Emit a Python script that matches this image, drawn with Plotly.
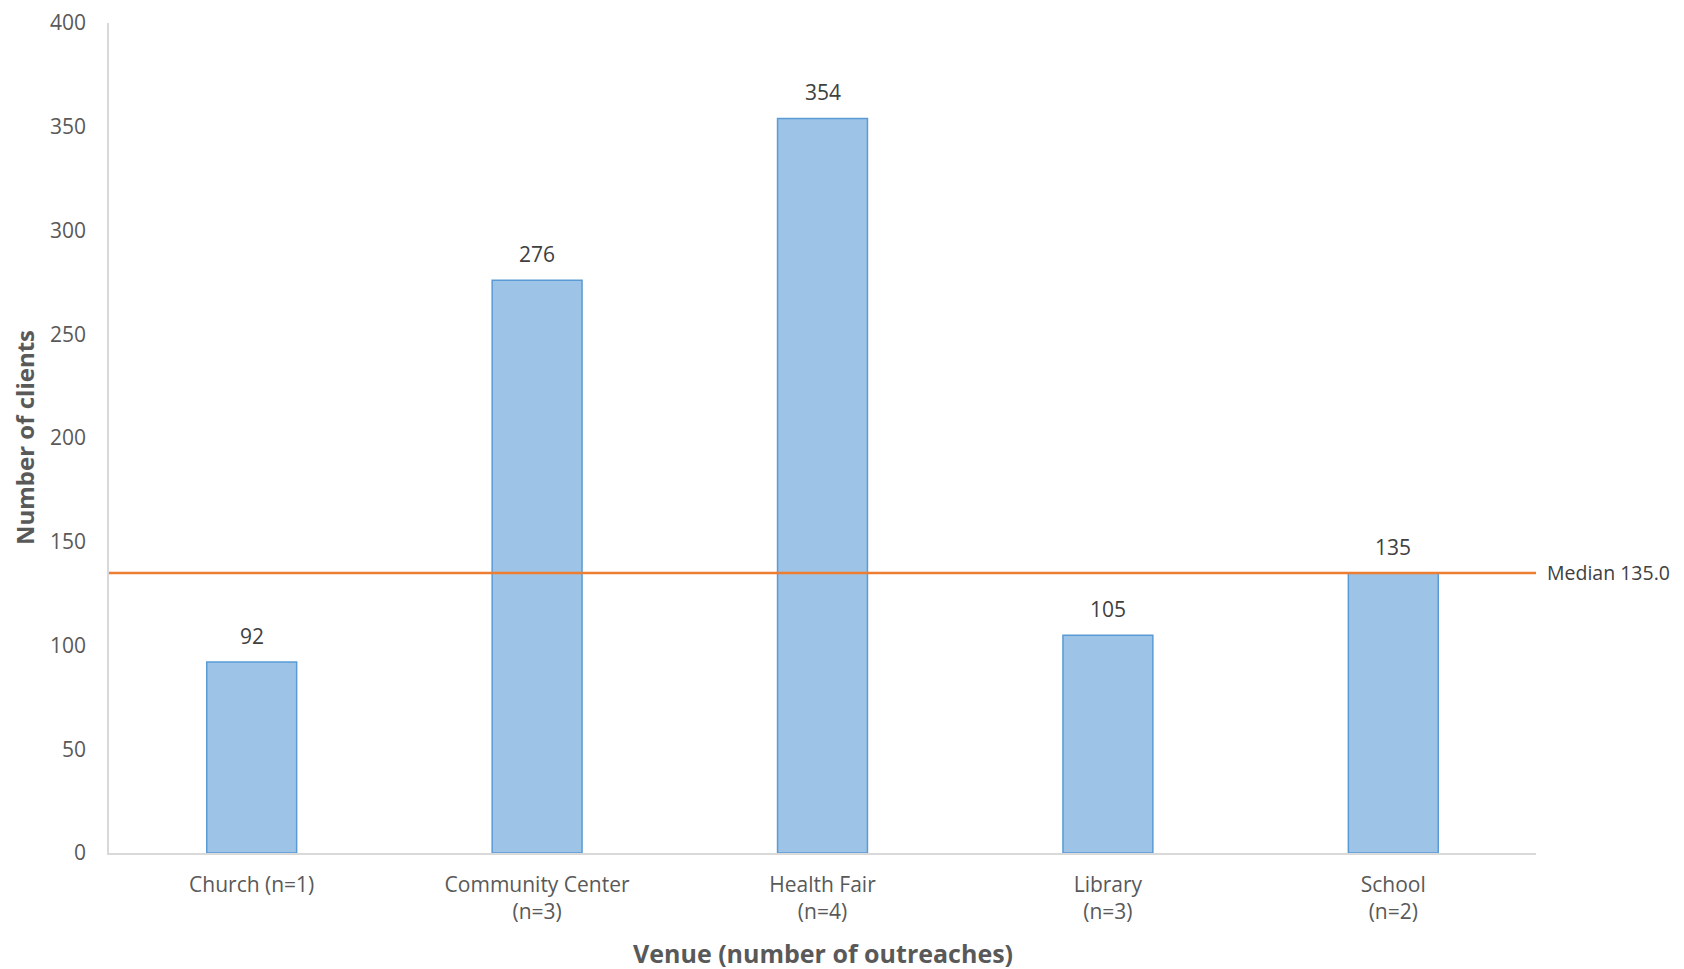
import plotly.graph_objects as go

venues = ["Church", "Community Center", "Health Fair", "Library", "School"]
outreaches = [1, 3, 4, 3, 2]
clients = [92, 276, 354, 105, 135]
median_value = 135.0
y_ticks = [0, 50, 100, 150, 200, 250, 300, 350, 400]

labels = []
for v, n in zip(venues, outreaches):
    if v == "Church":
        labels.append(f"{v} (n={n})")
    else:
        labels.append(f"{v}<br>(n={n})")

FONT = "Open Sans"
GRAY = "#595959"
DARK = "#404040"

fig = go.Figure()
fig.add_trace(go.Bar(
    x=labels, y=clients,
    width=0.315,
    marker=dict(color="#9DC3E6", line=dict(color="#5B9BD5", width=1.5)),
    showlegend=False,
))

for lab, c in zip(labels, clients):
    fig.add_annotation(x=lab, y=c, xref="x", yref="y", text=str(c), showarrow=False,
                       yanchor="middle", yshift=26,
                       font=dict(family=FONT, size=21, color=DARK))

fig.add_shape(type="line", xref="paper", yref="y", x0=0, x1=1, y0=median_value, y1=median_value,
              line=dict(color="#ED7D31", width=2.5), layer="above")
fig.add_annotation(xref="paper", yref="y", x=1, y=median_value, xanchor="left", yanchor="middle",
                   xshift=9, text=f"Median {median_value:.1f}", showarrow=False,
                   font=dict(family=FONT, size=19.5, color=DARK))

# axis titles
fig.add_annotation(xref="paper", yref="paper", x=0.5, y=0, yshift=-100, xanchor="center", yanchor="middle",
                   text="<b>Venue (number of outreaches)</b>", showarrow=False,
                   font=dict(family=FONT, size=25, color=GRAY))
fig.add_annotation(xref="paper", yref="paper", x=0, y=0.5, xshift=-85, xanchor="center", yanchor="middle",
                   textangle=-90, text="<b>Number of clients</b>", showarrow=False,
                   font=dict(family=FONT, size=24, color=GRAY))

# page body has an 8px margin, so the figure is sized/offset to compensate
fig.update_layout(
    width=1676, height=961,
    margin=dict(l=101, r=148, t=15, b=116, autoexpand=False),
    paper_bgcolor="white", plot_bgcolor="white",
    bargap=0.685,
    font=dict(family=FONT, color=GRAY),
    xaxis=dict(
        automargin=False,
        showline=True, linecolor="#D9D9D9", linewidth=1.5, showgrid=False, ticks="",
        ticklabelstandoff=12,
        tickfont=dict(family=FONT, size=21, color=GRAY),
    ),
    yaxis=dict(
        automargin=False,
        range=[0, 400], tickvals=y_ticks, showline=True, linecolor="#D9D9D9", linewidth=1.5,
        showgrid=False, zeroline=False, ticks="", ticklabelstandoff=17,
        tickfont=dict(family=FONT, size=21, color=GRAY),
    ),
)

fig.write_html("out.html")
